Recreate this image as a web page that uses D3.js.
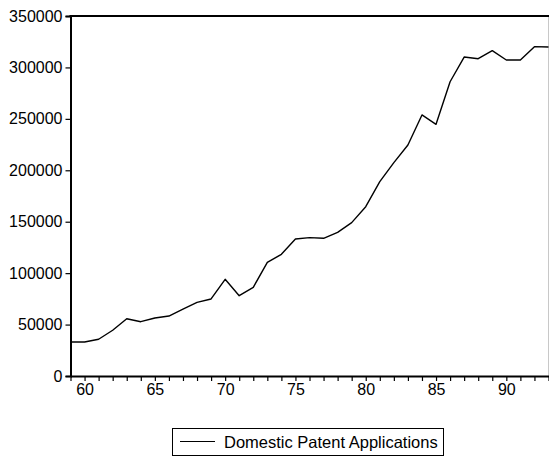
<!DOCTYPE html>
<html lang="en">
<head>
<meta charset="UTF-8">
<title>Domestic Patent Applications</title>
<script src="https://cdnjs.cloudflare.com/ajax/libs/d3/7.8.5/d3.min.js"></script>
<style>
  body { margin: 0; background: #fff; }
  svg text { font-family: "Liberation Sans", Arial, sans-serif; fill: #000; }
</style>
</head>
<body>
<svg id="chart" width="549" height="457"></svg>
<script>
    // years 1959..1993 (shown as two-digit)
    const years = d3.range(59, 94);
    const applications = [
        33000, 33000, 35700, 44500, 55700, 52800, 56400, 58300, 65000, 71600,
        74900, 94000, 78100, 86200, 110500, 118300, 133200, 134500, 133900, 139700,
        149100, 164600, 189000, 207500, 224600, 253800, 244700, 286100, 310100, 308500,
        316300, 307200, 307200, 320200, 319900
    ];
    const xTickLabels = [60, 65, 70, 75, 80, 85, 90];
    const yTickLabels = [0, 50000, 100000, 150000, 200000, 250000, 300000, 350000];
    const seriesName = "Domestic Patent Applications";

    const svg = d3.select("#chart");
    const plotLeft = 70.5, plotRight = 548.5, plotTop = 16, plotBottom = 376;

    const x = d3.scaleLinear().domain([59, 93]).range([plotLeft, plotRight]);
    const y = d3.scaleLinear().domain([0, 350000]).range([plotBottom, plotTop]);

    // right border (light grey)
    svg.append("line")
        .attr("x1", plotRight).attr("x2", plotRight)
        .attr("y1", plotTop).attr("y2", plotBottom)
        .attr("stroke", "#c8c8c8").attr("stroke-width", 1);

    // top border
    svg.append("line")
        .attr("x1", plotLeft - 1).attr("x2", 549)
        .attr("y1", plotTop).attr("y2", plotTop)
        .attr("stroke", "#000").attr("stroke-width", 2);

    // y axis
    const yAxis = d3.axisLeft(y).tickValues(yTickLabels).tickFormat(d3.format("d"))
        .tickSize(5).tickPadding(3);
    const gy = svg.append("g").attr("transform", `translate(${plotLeft},0)`).call(yAxis);
    gy.select(".domain").attr("stroke-width", 2);
    gy.selectAll(".tick line").attr("stroke-width", 1.2);
    gy.selectAll("text").style("font-size", "16px");

    // x axis: a tick every year, labels every 5
    const xAxis = d3.axisBottom(x).tickValues(years)
        .tickFormat(d => xTickLabels.includes(d) ? d : "")
        .tickSize(5).tickSizeOuter(0).tickPadding(3);
    const gx = svg.append("g").attr("transform", `translate(0,${plotBottom})`).call(xAxis);
    gx.select(".domain").attr("stroke-width", 2);
    gx.selectAll(".tick line").attr("stroke-width", 1.2);
    gx.selectAll("text").style("font-size", "16px");

    svg.selectAll(".domain, .tick line").attr("stroke", "#000");

    // series line
    const line = d3.line().x((d, i) => x(years[i])).y(d => y(d));
    svg.append("path")
        .datum(applications)
        .attr("d", line)
        .attr("fill", "none")
        .attr("stroke", "#000")
        .attr("stroke-width", 1.4)
        .attr("stroke-linejoin", "round");

    // legend
    const legend = svg.append("g");
    legend.append("rect")
        .attr("x", 172.5).attr("y", 428.5)
        .attr("width", 271).attr("height", 27)
        .attr("fill", "none").attr("stroke", "#000").attr("stroke-width", 1);
    legend.append("line")
        .attr("x1", 180).attr("x2", 215)
        .attr("y1", 441.5).attr("y2", 441.5)
        .attr("stroke", "#000").attr("stroke-width", 1.2);
    legend.append("text")
        .attr("x", 224).attr("y", 447.5)
        .style("font-size", "16.5px")
        .text(seriesName);
</script>
</body>
</html>
